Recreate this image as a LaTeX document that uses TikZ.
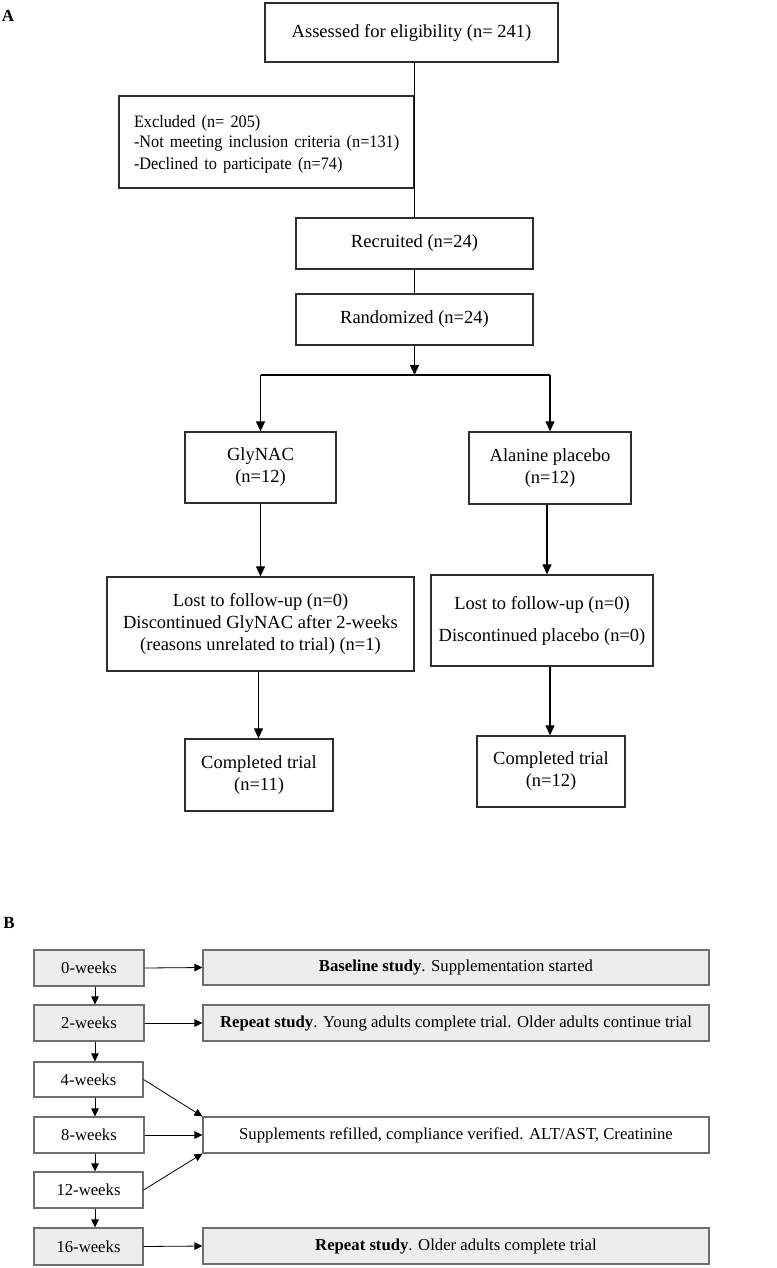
\documentclass[tikz,border=0pt]{standalone}
\usepackage{fontspec}
\setmainfont{Liberation Serif}
\usetikzlibrary{arrows.meta}
\definecolor{boxA}{HTML}{2E2E2E}
\definecolor{boxB}{HTML}{6E6E6E}
\definecolor{fillB}{HTML}{EDEDED}
\tikzset{
  abox/.style={draw=boxA, line width=1.3pt, inner sep=0pt, align=center,
    font=\fontsize{18.5}{22}\selectfont},
  bbox/.style={draw=boxB, line width=1.1pt, inner sep=0pt, align=center,
    font=\fontsize{16.7}{20}\selectfont},
  gbox/.style={bbox, fill=fillB},
  arrA/.style={draw=black, line width=1.2pt, -{Triangle[length=10pt,width=9pt]}},
  lineA/.style={draw=black, line width=1.2pt},
  arrB/.style={draw=black, line width=0.8pt, -{Triangle[length=8pt,width=7.5pt]}},
  lbl/.style={font=\fontsize{17}{20}\selectfont\bfseries, inner sep=0pt}
}
\begin{document}
\begin{tikzpicture}[x=1pt,y=-1pt]
\useasboundingbox (0,0) rectangle (776,1268);
% ---------- Part A ----------
\node[lbl] (la) at (8,16) {A};
\node[abox, minimum width=293pt, minimum height=59pt] (assess) at (411.5,32.5) {Assessed for eligibility (n= 241)};
\node[abox, minimum width=295pt, minimum height=92pt, align=left, text width=265pt] (excl) at (266.5,142)
  {\fontsize{17.5}{20.5}\selectfont\addfontfeature{FakeStretch=0.93}\rule{0pt}{17pt}\mbox{Excluded (n= 205)}\\\mbox{-Not meeting inclusion criteria (n=131)}\\\mbox{-Declined to participate (n=74)}};
\node[abox, minimum width=237pt, minimum height=51pt] (recr) at (414.5,243.5) {Recruited (n=24)};
\node[abox, minimum width=237pt, minimum height=51pt] (rand) at (414.5,319.5) {Randomized (n=24)};
\coordinate (junc) at (414.5,375);
\coordinate (jl) at (260.5,375);
\coordinate (jr) at (550,375);
\node[abox, minimum width=151pt, minimum height=71pt] (gly) at (260.5,467.5) {GlyNAC\\(n=12)};
\node[abox, minimum width=162pt, minimum height=72pt] (ala) at (550,468) {Alanine placebo\\(n=12)};
\node[abox, minimum width=307pt, minimum height=94pt] (lostL) at (260.5,624)
  {Lost to follow-up (n=0)\\Discontinued GlyNAC after 2-weeks\\(reasons unrelated to trial) (n=1)};
\node[abox, minimum width=222pt, minimum height=91pt] (lostR) at (542,620.5)
  {Lost to follow-up (n=0)\\[10pt]Discontinued placebo (n=0)};
\node[abox, minimum width=148pt, minimum height=72pt] (compL) at (259,775) {Completed trial\\(n=11)};
\node[abox, minimum width=148pt, minimum height=71pt] (compR) at (551,771.5) {Completed trial\\(n=12)};

\draw[lineA] (recr.north |- assess.south) -- (recr.north);
\draw[lineA] (recr.south) -- (rand.north);
\draw[arrA] (rand.south) -- (junc);
\draw[lineA] (jl) -- (jr);
\draw[arrA] (jl) -- (gly.north);
\draw[arrA] (jr) -- (ala.north);
\draw[arrA] (gly.south) -- (gly.south |- lostL.north);
\draw[arrA] ([xshift=-3pt]ala.south) -- ([xshift=-3pt]ala.south |- lostR.north);
\draw[arrA] ([xshift=-2pt]lostL.south) -- ([xshift=-2pt]lostL.south |- compL.north);
\draw[arrA] ([xshift=8pt]lostR.south) -- ([xshift=8pt]lostR.south |- compR.north);

% ---------- Part B ----------
\node[lbl] (lb) at (9,923) {B};
\node[gbox, minimum width=110pt, minimum height=36pt] (w0) at (89,968) {0-weeks};
\node[gbox, minimum width=110pt, minimum height=36pt] (w2) at (89,1023) {2-weeks};
\node[bbox, minimum width=109pt, minimum height=35pt] (w4) at (88.5,1079.5) {4-weeks};
\node[bbox, minimum width=110pt, minimum height=36pt] (w8) at (89,1135) {8-weeks};
\node[bbox, minimum width=109pt, minimum height=36pt] (w12) at (88.5,1190) {12-weeks};
\node[gbox, minimum width=109pt, minimum height=37pt] (w16) at (88.5,1246.5) {16-weeks};

\node[gbox, minimum width=506pt, minimum height=35pt] (base) at (456,967.5) {\textbf{Baseline study}. Supplementation started};
\node[gbox, minimum width=506pt, minimum height=36pt] (rep2) at (456,1023) {\textbf{Repeat study}. Young adults complete trial. Older adults continue trial};
\node[bbox, minimum width=506pt, minimum height=36pt] (supp) at (456,1135) {Supplements refilled, compliance verified. ALT/AST, Creatinine};
\node[gbox, minimum width=506pt, minimum height=36pt] (rep16) at (456,1246) {\textbf{Repeat study}. Older adults complete trial};

\draw[arrB] ([xshift=6pt]w0.south) -- ([xshift=6pt]w2.north);
\draw[arrB] ([xshift=6pt]w2.south) -- ([xshift=6.5pt]w4.north);
\draw[arrB] ([xshift=6.5pt]w4.south) -- ([xshift=6pt]w8.north);
\draw[arrB] ([xshift=6pt]w8.south) -- ([xshift=6.5pt]w12.north);
\draw[arrB] ([xshift=6.5pt]w12.south) -- ([xshift=6.5pt]w16.north);

\draw[arrB] (w0.east) -- (base.west);
\draw[arrB] (w2.east) -- (rep2.west);
\draw[arrB] (w4.east) -- (supp.north west);
\draw[arrB] (w8.east) -- (supp.west);
\draw[arrB] (w12.east) -- (supp.south west);
\draw[arrB] (w16.east) -- (rep16.west);
\end{tikzpicture}
\end{document}
